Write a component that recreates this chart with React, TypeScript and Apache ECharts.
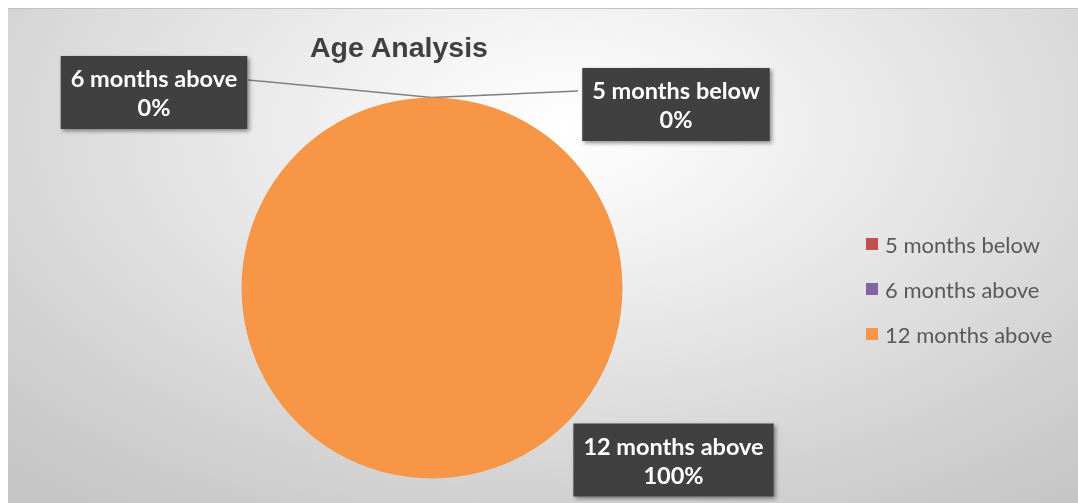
import React, { useEffect, useRef } from "react";
import * as echarts from "echarts";

const titleText = "Age Analysis";
const categories = ["5 months below", "6 months above", "12 months above"];
const values = [0, 0, 100];
const colors = ["#C0504D", "#8064A2", "#F79646"];

export default function App() {
  const ref = useRef<HTMLDivElement>(null);

  useEffect(() => {
    if (!ref.current) return;
    const chart = echarts.init(ref.current, undefined, { renderer: "svg" });
    // label box centres (chart px) and where the leader line meets the box
    const labelCentres = [
      [668, 95.5],
      [146, 83.5],
      [665.5, 451],
    ];
    const lineEnds = [
      [570, 82],
      [240, 71],
      null,
    ];
    chart.setOption({
      animation: false,
      title: {
        text: titleText,
        left: 297,
        top: 18,
        textStyle: {
          fontFamily: "Liberation Sans, Arial, sans-serif",
          fontSize: 28.5,
          fontWeight: "bold",
          color: "#404040",
        },
      },
      legend: {
        orient: "vertical",
        left: 858,
        top: 224,
        padding: 0,
        itemWidth: 12,
        itemHeight: 12,
        itemGap: 23,
        icon: "rect",
        selectedMode: false,
        data: categories,
        textStyle: {
          fontFamily: "Lato, sans-serif",
          fontSize: 22,
          color: "#595959",
          padding: [0, 0, 0, 2],
        },
      },
      series: [
        {
          type: "pie",
          center: [424, 279],
          radius: 190.5,
          startAngle: 90,
          clockwise: true,
          avoidLabelOverlap: false,
          itemStyle: { borderWidth: 0 },
          emphasis: { disabled: true },
          label: {
            show: true,
            position: "outside",
            formatter: "{b}\n{d}%",
            color: "#ffffff",
            fontFamily: "Lato, sans-serif",
            fontWeight: "bold",
            fontSize: 23.5,
            lineHeight: 29,
            backgroundColor: "#404040",
            padding: [8, 10, 7, 10],
            align: "center",
            shadowBlur: 4,
            shadowColor: "rgba(0,0,0,0.45)",
            shadowOffsetX: 2,
            shadowOffsetY: 2,
          },
          labelLine: {
            show: true,
            lineStyle: { color: "#7f7f7f", width: 1.5 },
          },
          labelLayout: (params: any) => {
            const c = labelCentres[params.dataIndex];
            const end = lineEnds[params.dataIndex];
            const start = params.labelLinePoints ? params.labelLinePoints[0] : null;
            const out: any = {
              x: c[0],
              y: c[1],
              align: "center",
              verticalAlign: "middle",
            };
            if (end && start) {
              out.labelLinePoints = [start, end, end];
            }
            return out;
          },
          data: categories.map((name, i) => ({
            name,
            value: values[i],
            itemStyle: { color: colors[i] },
            labelLine: { show: lineEnds[i] !== null },
          })),
        },
      ],
    });
    return () => chart.dispose();
  }, []);

  return (
    <div
      ref={ref}
      style={{
        position: "fixed",
        left: 8,
        top: 8,
        width: 1070,
        height: 495,
        borderTop: "1px solid #c4c4c4",
        boxSizing: "border-box",
        background:
          "radial-gradient(ellipse 75% 95% at 52% 24%, #ffffff 0%, #f6f6f6 18%, #e6e6e6 45%, #d4d4d4 75%, #c6c6c6 100%)",
      }}
    />
  );
}
